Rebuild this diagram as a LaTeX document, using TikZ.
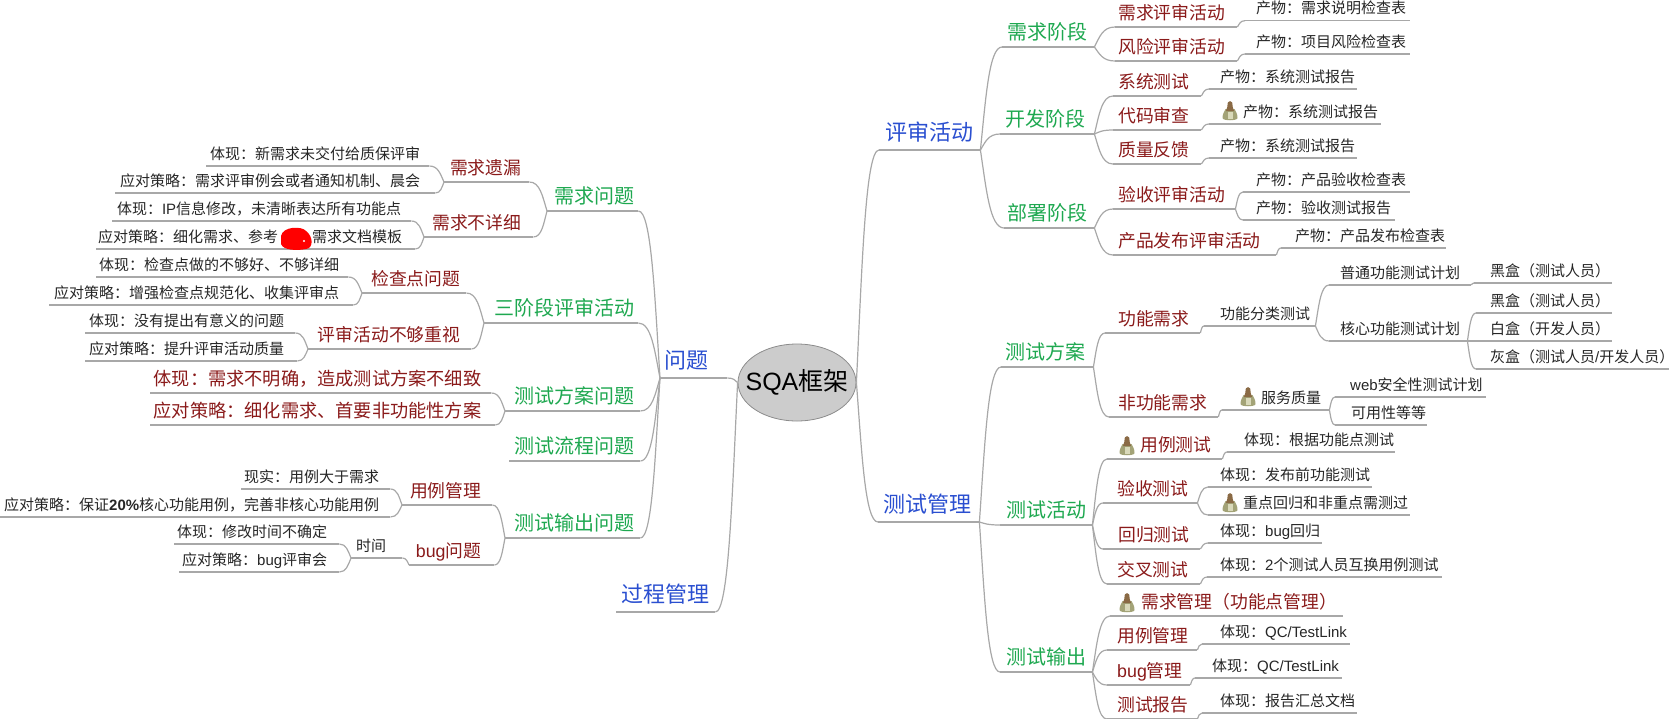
\documentclass[tikz,border=0pt]{standalone}
\usepackage{fontspec}
\usetikzlibrary{calc,shapes.geometric}
\setmainfont{Noto Sans CJK SC}
\newfontfamily\latf{Liberation Sans}
\newcommand\lat[1]{{\latf #1}}
\definecolor{cblue}{HTML}{2A4FD0}
\definecolor{cgreen}{HTML}{1EA850}
\definecolor{cred}{HTML}{8A1A1A}
\definecolor{ctext}{HTML}{262626}
\definecolor{cline}{HTML}{A8A8A8}
\definecolor{bellbrown}{HTML}{8A6A45}
\definecolor{bellbody}{HTML}{A3A377}
\definecolor{belllight}{HTML}{D9D9BA}
\tikzset{
  tbase/.style={inner xsep=0pt,text depth=0pt,draw=none},
  lone/.style={tbase,inner ysep=9.5pt,text=cblue,font=\fontsize{22}{26}\selectfont},
  ltwo/.style={tbase,inner ysep=7.5pt,text=cgreen,font=\fontsize{20}{24}\selectfont},
  lthree/.style={tbase,inner ysep=7pt,text=cred,font=\fontsize{17.8}{22}\selectfont},
  lthreeb/.style={tbase,inner ysep=7pt,text=cred,font=\fontsize{18.2}{22}\selectfont},
  lfour/.style={tbase,inner ysep=6.8pt,text=ctext,font=\fontsize{15}{18}\selectfont},
  uline/.style={draw=cline,line width=1.2pt},
  conn/.style={draw=cline,line width=1.2pt},
}
\newcommand\ttR[7]{%
  \pgfmathsetmacro\tmpw{#4-#3}\pgfmathsetmacro\tmpo{#6-#3}%
  \node[#2,anchor=south west] (#1) at (#3,#5) {\makebox[\tmpw pt][l]{\hspace*{\tmpo pt}#7}};
  \draw[uline] (#1.south west) -- (#1.south east);}
\newcommand\ttL[7]{%
  \pgfmathsetmacro\tmpw{#4-#3}\pgfmathsetmacro\tmpo{#4-#6}%
  \node[#2,anchor=south west] (#1) at (#3,#5) {\makebox[\tmpw pt][r]{#7\hspace*{\tmpo pt}}};
  \draw[uline] (#1.south west) -- (#1.south east);}
\newcommand\lnk[2]{\draw[conn] let \p1=(#1),\p2=(#2),\n1={\x2-\x1},\n2={\y2-\y1} in
  (\p1) .. controls ({\x1+.25*\n1},{\y1+.5*\n2}) and ({\x1+.4*\n1},\y2) .. (\p2);}
\newcommand\linkR[2]{\lnk{#1.south east}{#2.south west}}
\newcommand\linkL[2]{\lnk{#1.south west}{#2.south east}}
\newcommand\bellicon[2]{\begin{scope}[shift={(#1,#2)}]
  \fill[bellbody] (3.5,8) .. controls (2,11) and (0.5,13) .. (0.5,17) .. controls (0.5,20) and (15.5,20) .. (15.5,17) .. controls (15.5,13) and (14,11) .. (12.5,8) -- cycle;
  \fill[belllight] (5.5,11) rectangle (11,18);
  \fill[bellbrown] (5.8,1.5) .. controls (6.5,-0.4) and (9.5,-0.4) .. (10.2,1.5) .. controls (10.2,5) and (11,7) .. (12,10) -- (4,10) .. controls (5,7) and (5.8,5) .. (5.8,1.5) -- cycle;
\end{scope}}
\begin{document}
\begin{tikzpicture}[x=1pt,y=-1pt]
\useasboundingbox (0,0) rectangle (1669,718);
\node[ellipse,draw=black!45,fill=black!20,line width=.8pt,minimum width=118pt,minimum height=77pt,inner sep=0pt,font=\fontsize{25}{30}\selectfont,text=black] (root) at (797,382.5) {\makebox[0pt]{\lat{SQA}框架}};
% right: review
\ttR{rv}{lone}{879}{980}{150}{885}{评审活动}
\ttR{rvA}{ltwo}{1002}{1094}{47}{1007}{需求阶段}
\ttR{rvB}{ltwo}{1000}{1094}{134}{1005}{开发阶段}
\ttR{rvC}{ltwo}{1004}{1094}{228}{1007}{部署阶段}
\ttR{rvAa}{lthree}{1115}{1237}{27}{1118}{需求评审活动}
\ttR{rvAb}{lthree}{1115}{1237}{61}{1118}{风险评审活动}
\ttR{rvBa}{lthree}{1113}{1201}{96}{1118}{系统测试}
\ttR{rvBb}{lthree}{1113}{1201}{130}{1118}{代码审查}
\ttR{rvBc}{lthree}{1113}{1201}{164}{1118}{质量反馈}
\ttR{rvCa}{lthree}{1113}{1235}{209}{1118}{验收评审活动}
\ttR{rvCb}{lthree}{1113}{1276}{255}{1118}{产品发布评审活动}
\ttR{p1}{lfour}{1245}{1410}{20.7}{1256}{产物：需求说明检查表}
\ttR{p2}{lfour}{1245}{1410}{54}{1256}{产物：项目风险检查表}
\ttR{p3}{lfour}{1209}{1357}{89}{1220}{产物：系统测试报告}
\ttR{p4}{lfour}{1209}{1381}{124}{1243}{产物：系统测试报告}
\ttR{p5}{lfour}{1209}{1357}{158}{1220}{产物：系统测试报告}
\ttR{p6}{lfour}{1243}{1410}{192}{1256}{产物：产品验收检查表}
\ttR{p7}{lfour}{1243}{1395}{220}{1256}{产物：验收测试报告}
\ttR{p8}{lfour}{1281}{1446}{248}{1295}{产物：产品发布检查表}
\bellicon{1222}{101}
\lnk{root.east}{rv.south west}
\foreach \c in {rvA,rvB,rvC}{\linkR{rv}{\c}}
\linkR{rvA}{rvAa}\linkR{rvA}{rvAb}
\linkR{rvB}{rvBa}\linkR{rvB}{rvBb}\linkR{rvB}{rvBc}
\linkR{rvC}{rvCa}\linkR{rvC}{rvCb}
\linkR{rvAa}{p1}\linkR{rvAb}{p2}\linkR{rvBa}{p3}\linkR{rvBb}{p4}\linkR{rvBc}{p5}
\linkR{rvCa}{p6}\linkR{rvCa}{p7}\linkR{rvCb}{p8}
% right: test management
\ttR{tm}{lone}{878}{979}{522}{883}{测试管理}
\ttR{tA}{ltwo}{1001}{1093}{367}{1005}{测试方案}
\ttR{tB}{ltwo}{1000}{1092}{525}{1006}{测试活动}
\ttR{tC}{ltwo}{1000}{1092}{672}{1006}{测试输出}
\ttR{fn}{lthree}{1105}{1200}{333}{1118}{功能需求}
\ttR{nf}{lthree}{1109}{1218}{417}{1118}{非功能需求}
\ttR{fc}{lfour}{1204}{1315}{326}{1220}{功能分类测试}
\ttR{pt}{lfour}{1329}{1471}{285}{1340}{普通功能测试计划}
\ttR{hx}{lfour}{1329}{1467}{341}{1340}{核心功能测试计划}
\ttR{b1}{lfour}{1474}{1612}{283}{1490}{黑盒（测试人员）}
\ttR{b2}{lfour}{1476}{1612}{313}{1490}{黑盒（测试人员）}
\ttR{b3}{lfour}{1476}{1612}{341}{1490}{白盒（开发人员）}
\ttR{b4}{lfour}{1476}{1669}{369}{1490}{灰盒（测试人员\lat{/}开发人员）}
\ttR{sq}{lfour}{1222}{1329}{410}{1261}{服务质量}
\ttR{wb}{lfour}{1335}{1486}{397}{1350}{\lat{web}安全性测试计划}
\ttR{ky}{lfour}{1335}{1427}{425}{1351}{可用性等等}
\bellicon{1240}{387}
\lnk{root.east}{tm.south west}
\foreach \c in {tA,tB,tC}{\linkR{tm}{\c}}
\linkR{tA}{fn}\linkR{tA}{nf}\linkR{fn}{fc}\linkR{fc}{pt}\linkR{fc}{hx}
\linkR{pt}{b1}\linkR{hx}{b2}\linkR{hx}{b3}\linkR{hx}{b4}
\linkR{nf}{sq}\linkR{sq}{wb}\linkR{sq}{ky}
% test activities
\ttR{ua}{lthree}{1107}{1222}{459}{1140}{用例测试}
\ttR{ub}{lthree}{1103}{1197}{503}{1117}{验收测试}
\ttR{uc}{lthree}{1103}{1200}{549}{1118}{回归测试}
\ttR{ud}{lthree}{1107}{1200}{584}{1117}{交叉测试}
\ttR{va}{lfour}{1227}{1395}{452}{1244}{体现：根据功能点测试}
\ttR{vb}{lfour}{1208}{1372}{487}{1220}{体现：发布前功能测试}
\ttR{vc}{lfour}{1208}{1410}{515}{1243}{重点回归和非重点需测过}
\ttR{vd}{lfour}{1208}{1322}{543}{1220}{体现：\lat{bug}回归}
\ttR{ve}{lfour}{1207}{1442}{577}{1220}{体现：\lat{2}个测试人员互换用例测试}
\bellicon{1119}{436}
\bellicon{1222}{493}
\linkR{tB}{ua}\linkR{tB}{ub}\linkR{tB}{uc}\linkR{tB}{ud}
\linkR{ua}{va}\linkR{ub}{vb}\linkR{ub}{vc}\linkR{uc}{vd}\linkR{ud}{ve}
% test outputs
\ttR{wa}{lthree}{1110}{1343}{616}{1141}{需求管理（功能点管理）}
\ttR{wb2}{lthree}{1107}{1197}{650}{1117}{用例管理}
\ttR{wc}{lthree}{1107}{1190}{685}{1117}{\lat{bug}管理}
\ttR{wd}{lthree}{1107}{1197}{719}{1117}{测试报告}
\ttR{xa}{lfour}{1202}{1350}{644}{1220}{体现：\lat{QC/TestLink}}
\ttR{xb}{lfour}{1195}{1342}{678}{1212}{体现：\lat{QC/TestLink}}
\ttR{xc}{lfour}{1202}{1357}{713}{1220}{体现：报告汇总文档}
\bellicon{1119}{593}
\linkR{tC}{wa}\linkR{tC}{wb2}\linkR{tC}{wc}\linkR{tC}{wd}
\linkR{wb2}{xa}\linkR{wc}{xb}\linkR{wd}{xc}
% left
\ttL{q}{lone}{660}{727}{378}{708}{问题}
\ttL{gc}{lone}{616}{715}{612}{709}{过程管理}
\ttL{qa}{ltwo}{547}{638}{211}{634}{需求问题}
\ttL{qb}{ltwo}{484}{638}{323}{634}{三阶段评审活动}
\ttL{qc}{ltwo}{505}{640}{411}{634}{测试方案问题}
\ttL{qd}{ltwo}{509}{640}{461}{634}{测试流程问题}
\ttL{qe}{ltwo}{505}{640}{538}{634}{测试输出问题}
\lnk{root.west}{q.south east}
\lnk{root.west}{gc.south east}
\foreach \c in {qa,qb,qc,qd,qe}{\linkL{q}{\c}}
\ttL{ra}{lthree}{444}{529}{182}{521}{需求遗漏}
\ttL{rb}{lthree}{424}{533}{237}{521}{需求不详细}
\ttL{rc}{lthree}{362}{466}{293}{460}{检查点问题}
\ttL{rd}{lthree}{308}{471}{349}{460}{评审活动不够重视}
\ttL{re}{lthreeb}{150}{491}{393}{481}{体现：需求不明确，造成测试方案不细致}
\ttL{rf}{lthreeb}{150}{495}{425}{481}{应对策略：细化需求、首要非功能性方案}
\ttL{rg}{lthree}{402}{492}{505}{481}{用例管理}
\ttL{rh}{lthree}{409}{494}{565}{481}{\lat{bug}问题}
\ttL{ta}{lfour}{206}{429}{166}{420}{体现：新需求未交付给质保评审}
\ttL{tb}{lfour}{115}{435}{193}{420}{应对策略：需求评审例会或者通知机制、晨会}
\ttL{tc}{lfour}{112}{411}{221}{401}{体现：\lat{IP}信息修改，未清晰表达所有功能点}
\ttL{td}{lfour}{96}{415}{249}{402}{应对策略：细化需求、参考\hspace{34pt}需求文档模板}
\ttL{te}{lfour}{96}{348}{277}{339}{体现：检查点做的不够好、不够详细}
\ttL{tf}{lfour}{49}{353}{305}{339}{应对策略：增强检查点规范化、收集评审点}
\ttL{tg}{lfour}{85}{295}{333}{284}{体现：没有提出有意义的问题}
\ttL{th}{lfour}{85}{297}{361}{284}{应对策略：提升评审活动质量}
\ttL{tj}{lfour}{241}{390}{489}{379}{现实：用例大于需求}
\ttL{tk}{lfour}{0}{390}{517}{379}{应对策略：保证\lat{\textbf{20\%}}核心功能用例，完善非核心功能用例}
\ttL{tl}{lfour}{351}{402}{558}{386}{时间}
\ttL{tm2}{lfour}{174}{339}{544}{327}{体现：修改时间不确定}
\ttL{tn}{lfour}{179}{339}{572}{327}{应对策略：\lat{bug}评审会}
\linkL{qa}{ra}\linkL{qa}{rb}\linkL{qb}{rc}\linkL{qb}{rd}\linkL{qc}{re}\linkL{qc}{rf}
\linkL{qe}{rg}\linkL{qe}{rh}
\linkL{ra}{ta}\linkL{ra}{tb}\linkL{rb}{tc}\linkL{rb}{td}\linkL{rc}{te}\linkL{rc}{tf}
\linkL{rd}{tg}\linkL{rd}{th}\linkL{rg}{tj}\linkL{rg}{tk}\linkL{rh}{tl}\linkL{tl}{tm2}\linkL{tl}{tn}
% redaction scribble
\fill[red] (281,236) .. controls (283,226) and (302,226) .. (306,231) .. controls (313,236) and (314,248) .. (306,249) .. controls (296,251) and (283,250) .. (281,244) -- cycle;
\fill[white] (304,241) circle (1.2);
\end{tikzpicture}
\end{document}
